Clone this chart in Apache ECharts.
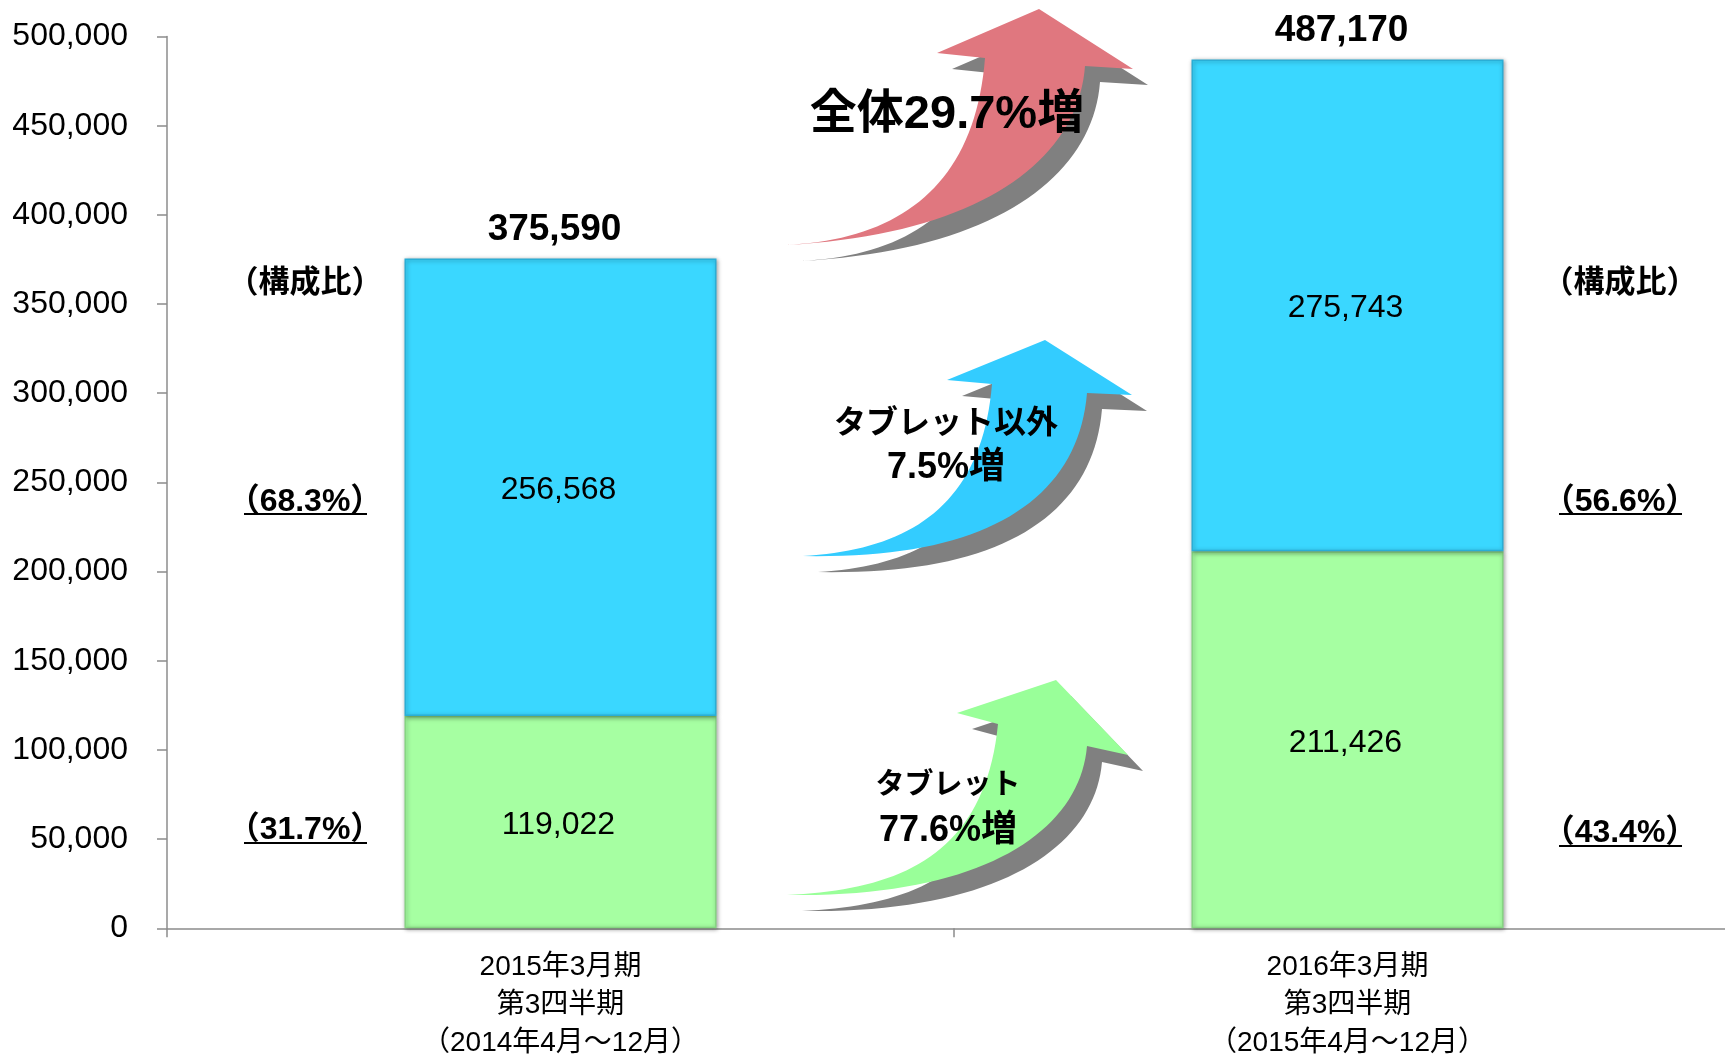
<!DOCTYPE html>
<html>
<head>
<meta charset="utf-8">
<script src="https://cdn.jsdelivr.net/npm/echarts@6/dist/echarts.min.js"></script>
<style>
  html, body { margin: 0; padding: 0; background: #fff; }
  #main { width: 1725px; height: 1055px; }
</style>
</head>
<body>
<div id="main"></div>
<script>
// 期間（カテゴリ）
const categories = [
  "2015年3月期\n第3四半期\n（2014年4月～12月）",
  "2016年3月期\n第3四半期\n（2015年4月～12月）",
];
// タブレット / タブレット以外
const tabletValues = [119022, 211426];
const otherValues = [256568, 275743];
// 合計（資料の表記どおり）
const totalValues = [375590, 487170];
// 構成比
const tabletShare = ["31.7", "43.4"];
const otherShare = ["68.3", "56.6"];
// 縦軸
const yMin = 0;
const yMax = 500000;
const yInterval = 50000;

const FONT = "'Liberation Sans', Arial, 'Noto Sans CJK JP', sans-serif";
const fmt = (v) => Number(v).toLocaleString("en-US");

// 曲がった矢印
const arrows = [
  {
    color: "#E0777F",
    tail: [785, 245], ic1: [900, 240], ic2: [975, 185], ln: [985, 58],
    lb: [937, 53], tip: [1039, 9], rb: [1133, 69], rn: [1085, 66],
    oc1: [1078, 160], oc2: [980, 235],
  },
  {
    color: "#33CCFF",
    tail: [803, 556], ic1: [910, 550], ic2: [982, 505], ln: [992, 384],
    lb: [947, 380], tip: [1045, 340], rb: [1132, 395], rn: [1087, 393],
    oc1: [1078, 500], oc2: [985, 560],
  },
  {
    color: "#99FF99",
    tail: [787, 895], ic1: [900, 890], ic2: [985, 855], ln: [998, 724],
    lb: [957, 713], tip: [1056, 680], rb: [1128, 755], rn: [1087, 746],
    oc1: [1080, 830], oc2: [985, 898],
  },
];

// 3次ベジェを折れ線に
function bezier(p0, p1, p2, p3, n) {
  const pts = [];
  for (let i = 0; i <= n; i++) {
    const t = i / n, u = 1 - t;
    pts.push([
      u * u * u * p0[0] + 3 * u * u * t * p1[0] + 3 * u * t * t * p2[0] + t * t * t * p3[0],
      u * u * u * p0[1] + 3 * u * u * t * p1[1] + 3 * u * t * t * p2[1] + t * t * t * p3[1],
    ]);
  }
  return pts;
}

function arrowPoints(a, dx, dy) {
  const pts = []
    .concat(bezier(a.tail, a.ic1, a.ic2, a.ln, 40))
    .concat([a.lb, a.tip, a.rb])
    .concat(bezier(a.rn, a.oc1, a.oc2, a.tail, 40));
  return pts.map((p) => [p[0] + dx, p[1] + dy]);
}

function text(x, y, str, size) {
  return {
    type: "text",
    z: 100,
    style: {
      x: x,
      y: y,
      text: str,
      fontSize: size,
      fontWeight: "bold",
      fontFamily: FONT,
      fill: "#000",
      align: "center",
      verticalAlign: "middle",
      textAlign: "center",
      textVerticalAlign: "middle",
    },
  };
}

function underline(x1, x2, y) {
  return {
    type: "line",
    z: 100,
    shape: { x1: x1, y1: y, x2: x2, y2: y },
    style: { stroke: "#000", lineWidth: 2 },
  };
}

const graphics = [];
arrows.forEach((a) => {
  graphics.push({
    type: "polygon",
    z: 50,
    shape: { points: arrowPoints(a, 15, 16) },
    style: { fill: "#808080" },
  });
  graphics.push({
    type: "polygon",
    z: 51,
    shape: { points: arrowPoints(a, 0, 0) },
    style: { fill: a.color },
  });
});

// 増加率
graphics.push(text(947, 115, "全体29.7%増", 47));
graphics.push(text(946, 424, "タブレット以外", 32));
graphics.push(text(946, 468, "7.5%増", 36));
graphics.push(text(948, 786, "タブレット", 29));
graphics.push(text(948, 831, "77.6%増", 36));

// 構成比（左右）
const sideX = [305, 1620];
sideX.forEach((x, i) => {
  graphics.push(text(x, 283, "（構成比）", 31));
  graphics.push(text(x, 502, "（" + otherShare[i] + "%）", 32));
  graphics.push(underline(x - 61, x + 62, 514));
  const ty = i === 0 ? 830 : 833;
  graphics.push(text(x, ty, "（" + tabletShare[i] + "%）", 32));
  graphics.push(underline(x - 61, x + 62, ty + 13));
});

const chart = echarts.init(document.getElementById("main"));

const option = {
  animation: false,
  backgroundColor: "#fff",
  grid: {
    left: 167,
    top: 36.5,
    width: 1574,
    height: 891.8,
    containLabel: false,
    outerBoundsMode: "none",
  },
  xAxis: {
    type: "category",
    data: categories,
    axisLine: { lineStyle: { color: "#8c8c8c", width: 1.5 } },
    axisTick: { show: true, length: 9, lineStyle: { color: "#8c8c8c", width: 1.5 } },
    axisLabel: {
      margin: 20,
      fontSize: 28,
      lineHeight: 38,
      color: "#000",
      fontFamily: FONT,
    },
  },
  yAxis: {
    type: "value",
    min: yMin,
    max: yMax,
    interval: yInterval,
    splitLine: { show: false },
    axisLine: { show: true, lineStyle: { color: "#8c8c8c", width: 1.5 } },
    axisTick: { show: true, length: 10, lineStyle: { color: "#8c8c8c", width: 1.5 } },
    axisLabel: {
      margin: 39,
      fontSize: 32,
      color: "#000",
      fontFamily: FONT,
      formatter: (v) => fmt(v),
    },
  },
  series: [
    {
      name: "タブレット",
      type: "bar",
      stack: "sales",
      barWidth: 312,
      data: tabletValues,
      itemStyle: {
        color: "#A6FFA2",
        borderColor: "#86d682",
        borderWidth: 1.5,
        shadowColor: "rgba(0,0,0,0.35)",
        shadowBlur: 4,
        shadowOffsetX: 1,
        shadowOffsetY: 1,
      },
      label: {
        show: true,
        position: "inside",
        offset: [-2, 3],
        fontSize: 32,
        color: "#000",
        fontFamily: FONT,
        formatter: (p) => fmt(p.value),
      },
    },
    {
      name: "タブレット以外",
      type: "bar",
      stack: "sales",
      barWidth: 312,
      data: otherValues,
      itemStyle: {
        color: "#3AD7FF",
        borderColor: "#2aaed6",
        borderWidth: 1.5,
        shadowColor: "rgba(0,0,0,0.35)",
        shadowBlur: 4,
        shadowOffsetX: 1,
        shadowOffsetY: 1,
      },
      label: {
        show: true,
        position: "inside",
        offset: [-2, 3],
        fontSize: 32,
        color: "#000",
        fontFamily: FONT,
        formatter: (p) => fmt(p.value),
      },
    },
    {
      name: "合計",
      type: "bar",
      stack: "sales",
      barWidth: 312,
      data: [0, 0],
      itemStyle: { color: "rgba(0,0,0,0)" },
      label: {
        show: true,
        position: "top",
        distance: 10,
        offset: [-6, 0],
        fontSize: 37,
        fontWeight: "bold",
        color: "#000",
        fontFamily: FONT,
        formatter: (p) => fmt(totalValues[p.dataIndex]),
      },
    },
  ],
  graphic: graphics,
};

chart.setOption(option);
window.addEventListener("resize", () => chart.resize());
</script>
</body>
</html>
